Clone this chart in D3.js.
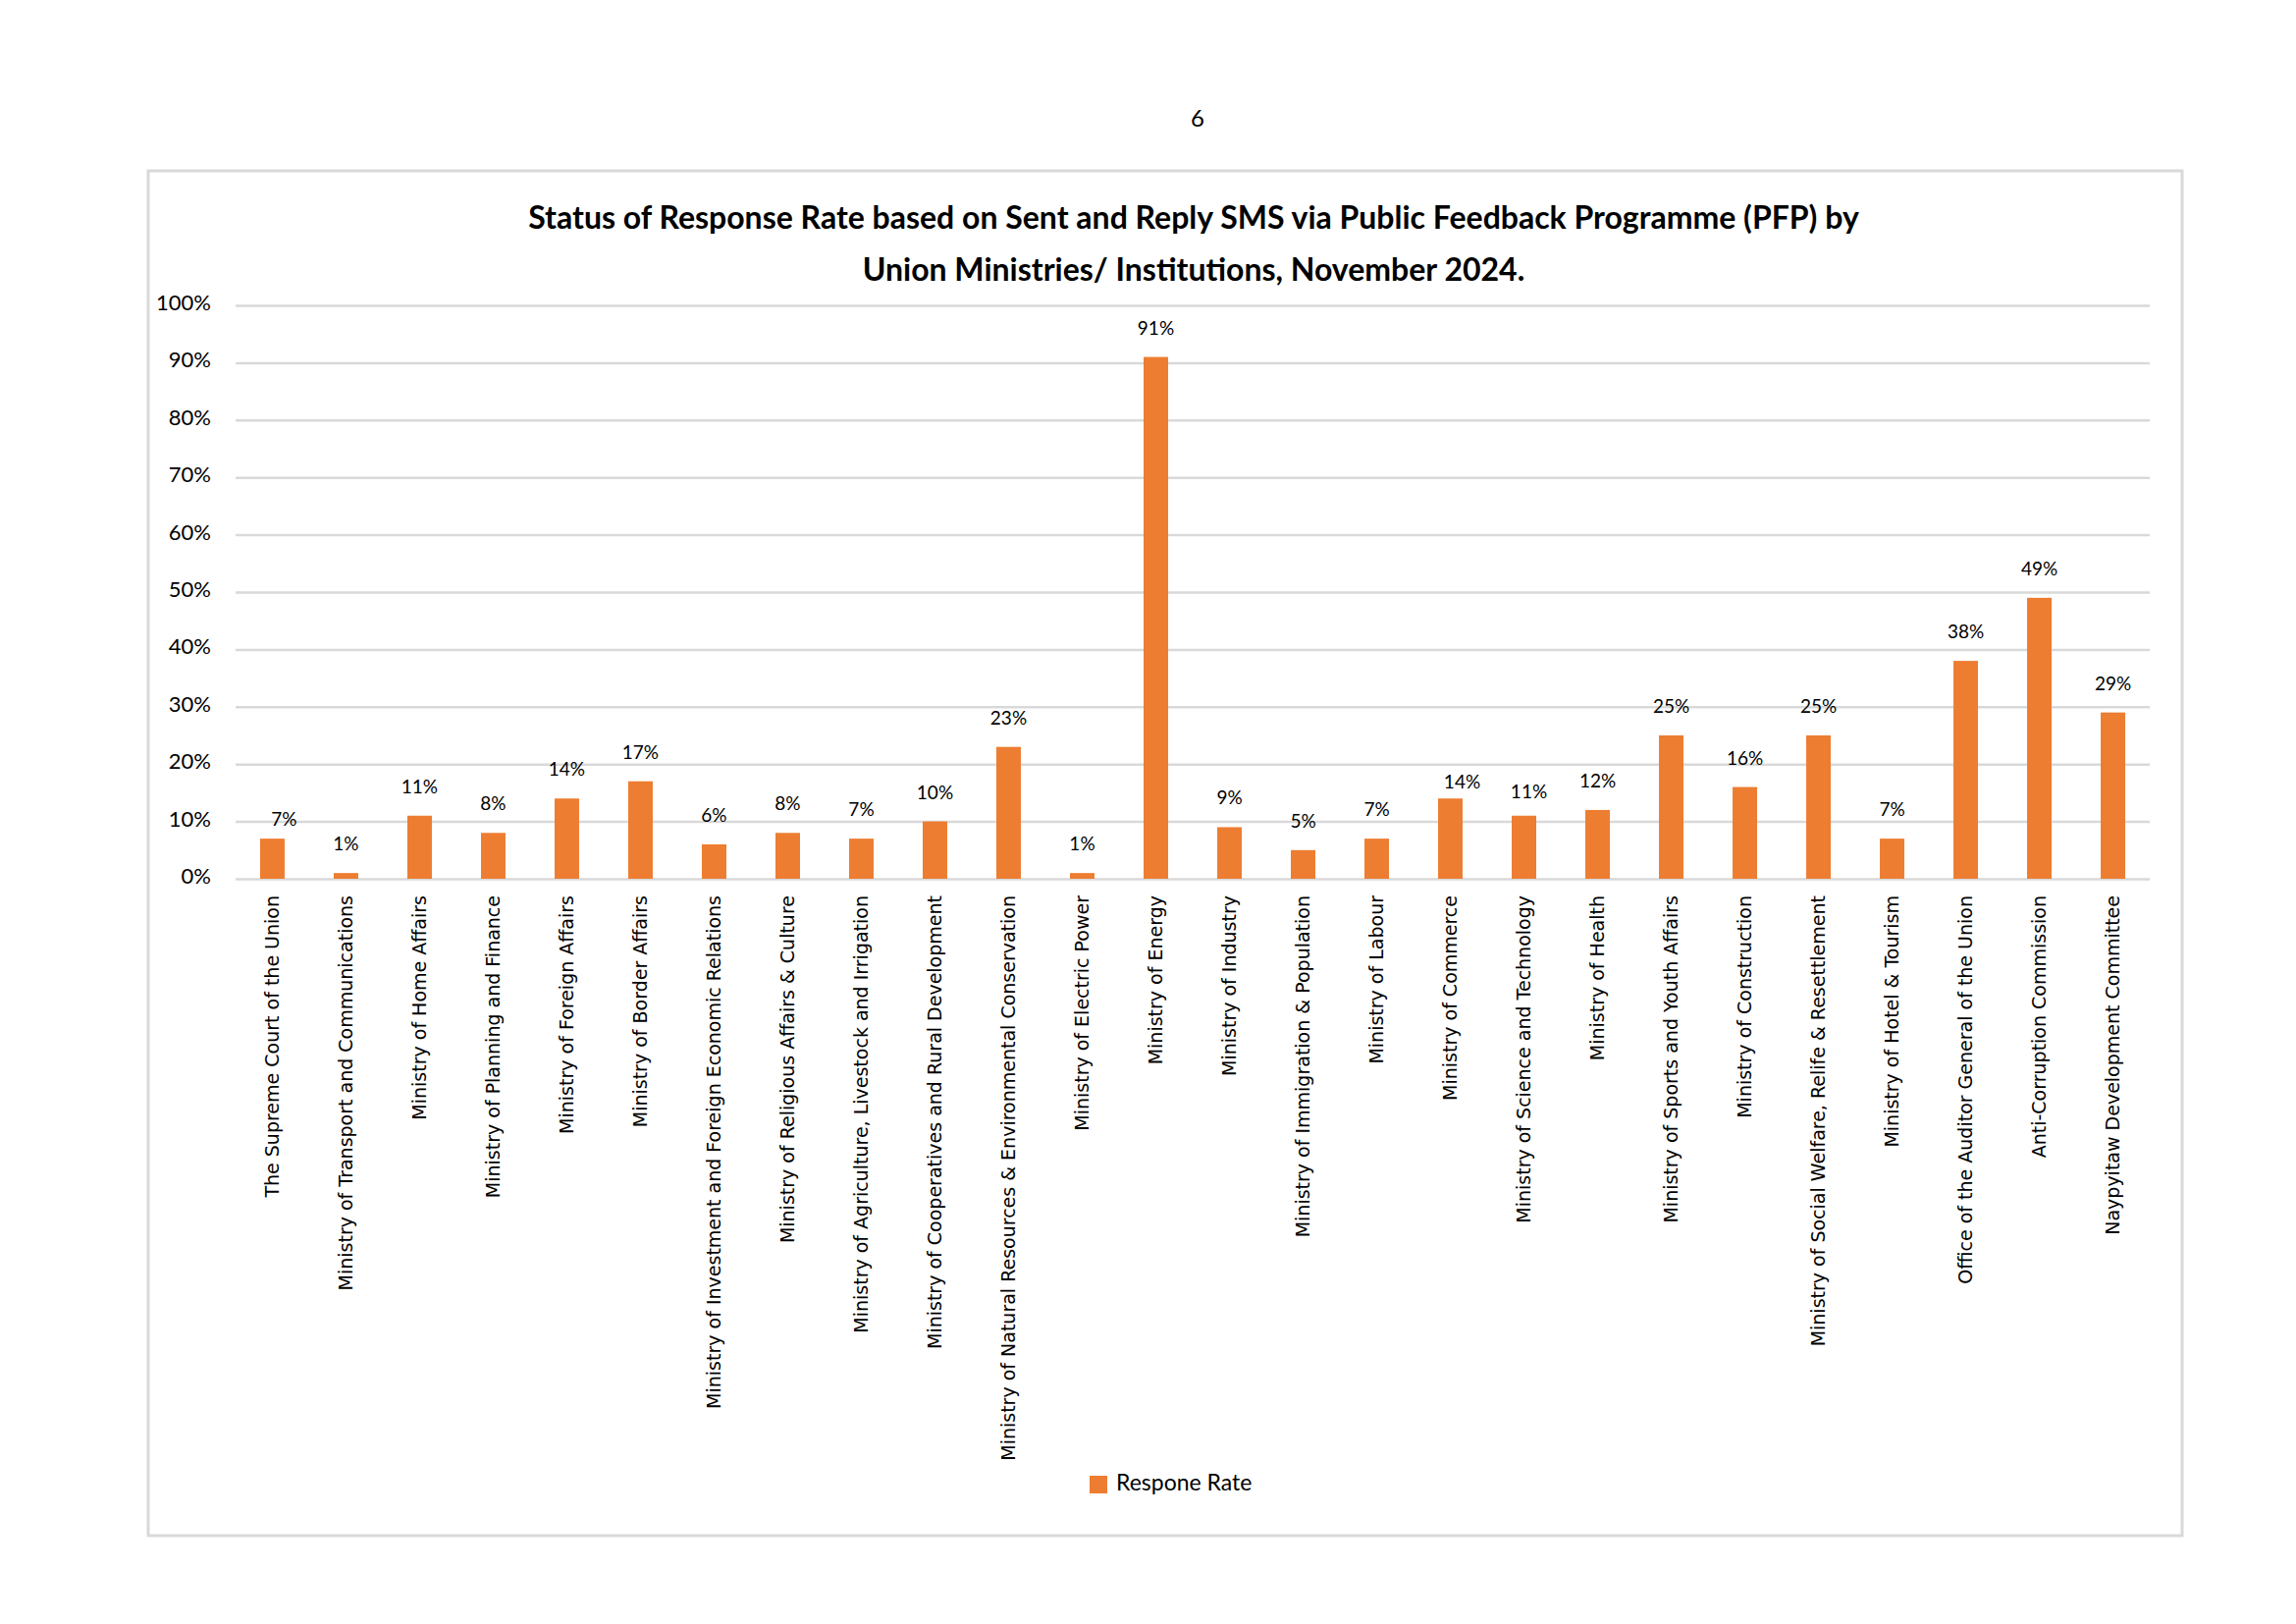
<!DOCTYPE html>
<html>
<head>
<meta charset="utf-8">
<script src="https://cdn.jsdelivr.net/npm/d3@7"></script>
<style>
  body { margin: 0; background: #fff; }
  text { fill: #000; }
</style>
</head>
<body>
<div id="chart"></div>
<script>
// Data
var categories = [
  "The Supreme Court of the Union",
  "Ministry of Transport and Communications",
  "Ministry of Home Affairs",
  "Ministry of Planning and Finance",
  "Ministry of Foreign Affairs",
  "Ministry of Border Affairs",
  "Ministry of Investment and Foreign Economic Relations",
  "Ministry of Religious Affairs & Culture",
  "Ministry of Agriculture, Livestock and Irrigation",
  "Ministry of Cooperatives and Rural Development",
  "Ministry of Natural Resources & Environmental Conservation",
  "Ministry of Electric Power",
  "Ministry of Energy",
  "Ministry of Industry",
  "Ministry of Immigration & Population",
  "Ministry of Labour",
  "Ministry of Commerce",
  "Ministry of Science and Technology",
  "Ministry of Health",
  "Ministry of Sports and Youth Affairs",
  "Ministry of Construction",
  "Ministry of Social Welfare, Relife & Resettlement",
  "Ministry of Hotel & Tourism",
  "Office of the Auditor General of the Union",
  "Anti-Corruption Commission",
  "Naypyitaw Development Committee"
];
var response_rate = [7, 1, 11, 8, 14, 17, 6, 8, 7, 10, 23, 1, 91, 9, 5, 7, 14, 11, 12, 25, 16, 25, 7, 38, 49, 29];
var y_ticks = [0, 10, 20, 30, 40, 50, 60, 70, 80, 90, 100];
var title_lines = [
  "Status of Response Rate based on Sent and Reply SMS via Public Feedback Programme (PFP) by",
  "Union Ministries/ Institutions, November 2024."
];
var series_name = "Respone Rate";
var page_number = "6";

var chart_width  = 2339;
var chart_height = 1654;
var bar_color = "#ED7D31";
var grid_color = "#D9D9D9";
var label_font = "Lato, 'Noto Sans', sans-serif";

// a few data labels were dragged by hand in the original
var label_nudge = { 0: [12, 10], 16: [12, 13], 17: [5, 5] };

var svg = d3.select('#chart')
            .append('svg')
            .attr('width', chart_width)
            .attr('height', chart_height);

svg.append('rect')
   .attr('width', chart_width)
   .attr('height', chart_height)
   .attr('fill', '#fff');

// Page number
svg.append('text')
   .attr('x', 1220)
   .attr('y', 129)
   .attr('text-anchor', 'middle')
   .style('font-family', label_font)
   .style('font-size', '24px')
   .text(page_number);

// Chart frame
svg.append('rect')
   .attr('x', 151)
   .attr('y', 174)
   .attr('width', 2072)
   .attr('height', 1390)
   .attr('fill', 'none')
   .attr('stroke', grid_color)
   .attr('stroke-width', 3);

// Title
svg.append('g')
   .selectAll('text')
   .data(title_lines)
   .enter()
   .append('text')
   .attr('x', 1216)
   .attr('y', function(d, i){ return 233 + i * 53; })
   .attr('text-anchor', 'middle')
   .style('font-family', label_font)
   .style('font-weight', 'bold')
   .style('font-size', '32px')
   .text(function(d){ return d; });

// Scales
var x = d3.scaleBand()
          .domain(categories)
          .range([240, 2190])
          .paddingInner(0.667)
          .paddingOuter(0.333);

var y = d3.scaleLinear()
          .domain([0, 100])
          .range([895, 311]);

// Gridlines + y labels
var y_axis = d3.axisLeft(y)
               .tickValues(y_ticks)
               .tickSize(-(2190 - 240))
               .tickPadding(25)
               .tickFormat(function(d){ return d + "%"; });

var gy = svg.append('g')
            .attr('transform', 'translate(240,0)')
            .call(y_axis);
gy.select('.domain').remove();
gy.selectAll('.tick line')
  .attr('stroke', grid_color)
  .attr('stroke-width', 2.5);
gy.selectAll('.tick text')
  .attr('dy', '0.2em')
  .style('font-family', label_font)
  .style('font-size', '22px')
  .style('fill', '#000');

// Bars
svg.append('g')
   .selectAll('rect')
   .data(response_rate)
   .enter()
   .append('rect')
   .attr('x', function(d, i){ return x(categories[i]); })
   .attr('y', function(d){ return y(d); })
   .attr('width', x.bandwidth())
   .attr('height', function(d){ return y(0) - y(d); })
   .attr('fill', bar_color);

// Value labels
svg.append('g')
   .selectAll('text')
   .data(response_rate)
   .enter()
   .append('text')
   .attr('x', function(d, i){
     var n = label_nudge[i] || [0, 0];
     return x(categories[i]) + x.bandwidth() / 2 + n[0];
   })
   .attr('y', function(d, i){
     var n = label_nudge[i] || [0, 0];
     return y(d) - 23 + n[1];
   })
   .attr('text-anchor', 'middle')
   .style('font-family', label_font)
   .style('font-size', '19px')
   .text(function(d){ return d + "%"; });

// Category labels
var x_axis = d3.axisBottom(x).tickSize(0).tickPadding(0);
var gx = svg.append('g')
            .attr('transform', 'translate(0,' + y(0) + ')')
            .call(x_axis);
gx.select('.domain').remove();
gx.selectAll('.tick text')
  .attr('transform', 'rotate(-90)')
  .attr('x', -17)
  .attr('y', 0)
  .attr('dy', '0.35em')
  .attr('text-anchor', 'end')
  .style('font-family', "'DejaVu Sans', sans-serif")
  .style('font-size', '19px')
  .style('fill', '#000');

// Legend
var legend = svg.append('g')
                .attr('transform', 'translate(1110,1503)');
legend.append('rect')
      .attr('width', 18)
      .attr('height', 18)
      .attr('fill', bar_color);
legend.append('text')
      .attr('x', 27)
      .attr('y', 15)
      .style('font-family', label_font)
      .style('font-size', '23px')
      .text(series_name);
</script>
</body>
</html>
